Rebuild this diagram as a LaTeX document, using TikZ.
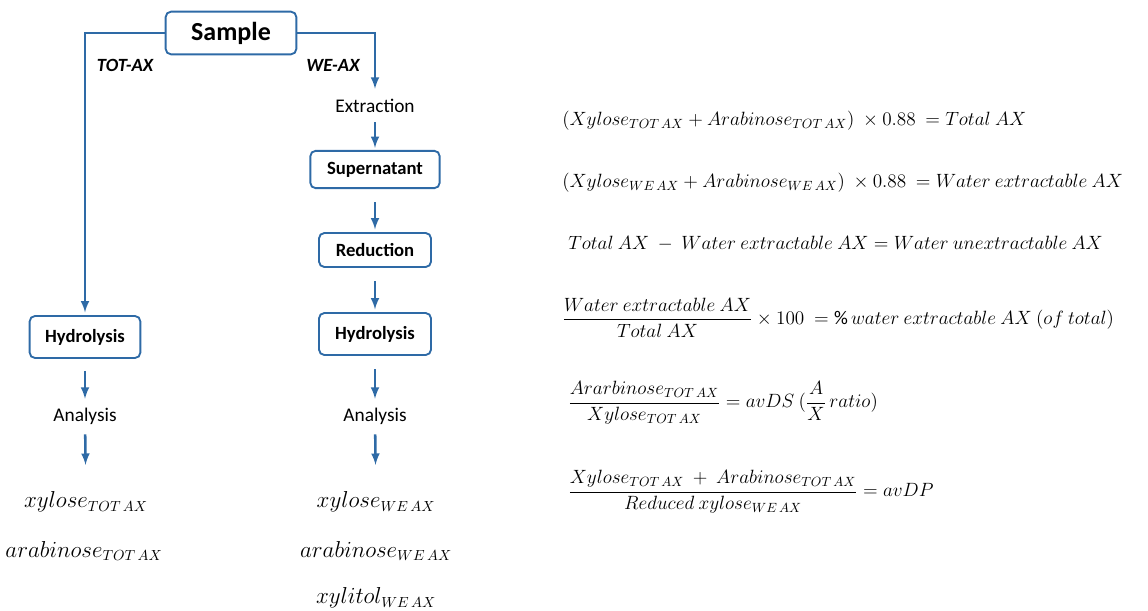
\documentclass[tikz,border=0pt]{standalone}
\usepackage{fontspec}
\setmainfont{Carlito}
\usepackage{amsmath}
\usepackage{tikz}
\usetikzlibrary{arrows}
\definecolor{flowblue}{RGB}{46,106,166}

\begin{document}
\begin{tikzpicture}[x=0.75pt, y=-0.75pt,
		box/.style={draw=flowblue, line width=1.4pt, rounded corners=4pt, inner sep=0pt, font=\bfseries\fontsize{14}{16}\selectfont},
		lbl/.style={inner sep=0pt, font=\fontsize{14.5}{17}\selectfont},
		branch/.style={inner sep=0pt, font=\bfseries\itshape\fontsize{14}{16}\selectfont},
		res/.style={inner sep=0pt, font=\fontsize{16}{19}\selectfont},
		eqn/.style={anchor=west, inner sep=0pt, font=\fontsize{14.5}{17}\selectfont},
		flow/.style={draw=flowblue, line width=1.9pt, -latex},
		gap/.style={shorten <=10pt, shorten >=2pt}]
				\useasboundingbox (0,0) rectangle (1148,610);
				% Paths, nodes and wires:
				\node[box, minimum width=98pt, minimum height=32pt, font=\bfseries\fontsize{19.5}{22}\selectfont](sample) at (231, 33){Sample};
				\node[branch](totax) at (125, 65){TOT-AX};
				\node[branch](weax) at (333, 65){WE-AX};
				\node[box, minimum width=83pt, minimum height=31.5pt](hydL) at (85, 337){Hydrolysis};
				\node[lbl, minimum height=26.25pt](anL) at (85, 416.5){Analysis};
				\node[res](xylL) at (86, 502){$xylose_{TOT\,AX}$};
				\node[res](araL) at (84, 551){$arabinose_{TOT\,AX}$};
				\node[lbl, minimum height=24.75pt](extr) at (375, 105.5){Extraction};
				\node[box, minimum width=97pt, minimum height=28pt](super) at (375, 169.5){Supernatant};
				\node[box, minimum width=84pt, minimum height=25.5pt](reduc) at (375, 250){Reduction};
				\node[box, minimum width=84pt, minimum height=31.5pt](hydR) at (375, 334){Hydrolysis};
				\node[lbl, minimum height=26.25pt](anR) at (375, 416.5){Analysis};
				\node[res](xylR) at (376, 502){$xylose_{WE\,AX}$};
				\node[res](araR) at (376, 551){$arabinose_{WE\,AX}$};
				\node[res](xyltR) at (376, 598){$xylitol_{WE\,AX}$};
				\draw[flow, shorten >=2pt] (sample.west) -| (hydL.north);
				\draw[flow] (sample.east) -| (extr.north);
				\draw[flow, shorten >=1.5pt] (extr) -- (super);
				\draw[flow, gap] (super) -- (reduc);
				\draw[flow, gap] (reduc) -- (hydR);
				\draw[flow, shorten <=10pt] (hydR) -- (anR);
				\draw[flow, shorten >=20pt] (anR) -- (xylR);
				\draw[flow, shorten <=9pt] (hydL) -- (anL);
				\draw[flow, shorten >=20pt] (anL) -- (xylL);
				\node[eqn](eq1) at (562, 121){$(Xylose_{TOT\,AX} + Arabinose_{TOT\,AX})\ \times 0.88\ = Total\ AX$};
				\node[eqn](eq2) at (562, 183){$(Xylose_{WE\,AX} + Arabinose_{WE\,AX})\ \times 0.88\ = Water\ extractable\ AX$};
				\node[eqn](eq3) at (568, 244){$Total\ AX\ -\ Water\ extractable\ AX = Water\ unextractable\ AX$};
				\node[eqn](eq4) at (562, 318){$\dfrac{Water\ extractable\ AX}{Total\ AX} \times 100\ = \%\,water\ extractable\ AX\ (of\ total)$};
				\node[eqn](eq5) at (568, 403){$\dfrac{Ararbinose_{TOT\,AX}}{Xylose_{TOT\,AX}} = avDS\ (\dfrac{A}{X}\,ratio)$};
				\node[eqn](eq6) at (568, 492){$\dfrac{Xylose_{TOT\,AX}\ +\ Arabinose_{TOT\,AX}}{Reduced\ xylose_{WE\,AX}} = avDP$};
			\end{tikzpicture}
\end{document}
